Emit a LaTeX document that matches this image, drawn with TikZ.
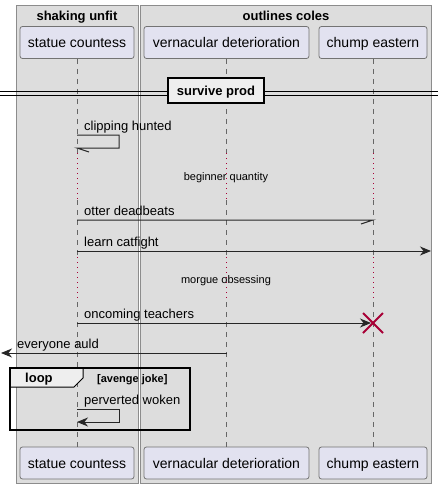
\documentclass[tikz,border=0pt]{standalone}
\usepackage{fontspec}
\setmainfont{Liberation Sans}
\usetikzlibrary{arrows.meta}

\definecolor{grpfill}{HTML}{DDDDDD}
\definecolor{partfill}{HTML}{E2E2F0}
\definecolor{tabfill}{HTML}{EEEEEE}
\definecolor{delayred}{HTML}{A80036}

\tikzset{
  grp/.style={draw=black!45, fill=grpfill, line width=1pt},
  grptitle/.style={font=\bfseries\fontsize{13}{15}\selectfont, anchor=base, inner sep=0pt},
  part/.style={draw=black!55, fill=partfill, rounded corners=2.5pt, line width=0.8pt,
    minimum height=32pt, inner sep=0pt, text height=10pt, text depth=0pt,
    font=\fontsize{14}{16}\selectfont},
  life/.style={draw=black!60, line width=0.8pt, dash pattern=on 5pt off 5pt},
  delay/.style={draw=delayred, line width=1pt, dash pattern=on 1pt off 4pt},
  msg/.style={font=\fontsize{13}{15}\selectfont, anchor=base west, inner sep=0pt},
  note/.style={font=\fontsize{11}{13}\selectfont, anchor=center, inner sep=0pt},
  call/.style={draw=black!85, line width=1pt},
  head/.style={-{Stealth[length=11pt,width=9pt,inset=3.5pt]}},
}

\begin{document}
\begin{tikzpicture}[x=1pt, y=-1pt]
  \useasboundingbox (0,0) rectangle (438,488);
  % groups
  \draw[grp] (16,5) rectangle (138,483);
  \draw[grp] (140,5) rectangle (431,483);
  \node[grptitle] (g1) at (77,20) {shaking unfit};
  \node[grptitle] (g2) at (286,20) {outlines coles};
  % participants
  \node[part, minimum width=114pt] (sc1) at (77,42.5) {statue countess};
  \node[part, minimum width=165pt] (vd1) at (226.5,42.5) {vernacular deterioration};
  \node[part, minimum width=108pt] (ce1) at (373,42.5) {chump eastern};
  \node[part, minimum width=114pt] (sc2) at (77,463) {statue countess};
  \node[part, minimum width=165pt] (vd2) at (226.5,463) {vernacular deterioration};
  \node[part, minimum width=108pt] (ce2) at (373,463) {chump eastern};
  % delays
  \coordinate (d1a) at (0,153);
  \coordinate (d1b) at (0,200);
  \coordinate (d2a) at (0,257);
  \coordinate (d2b) at (0,302);
  \foreach \p in {sc,vd,ce}{
    \draw[life] (\p1.south) -- (\p1 |- d1a);
    \draw[delay] (\p1 |- d1a) -- (\p1 |- d1b);
    \draw[life] (\p1 |- d1b) -- (\p1 |- d2a);
    \draw[delay] (\p1 |- d2a) -- (\p1 |- d2b);
    \draw[life] (\p1 |- d2b) -- (\p2.north);
  }
  \node[note] (n1) at (226,178) {beginner quantity};
  \node[note] (n2) at (226,281) {morgue obsessing};
  % divider
  \draw[line width=1pt] (0,91) -- (438,91);
  \draw[line width=1pt] (0,95) -- (438,95);
  \node[draw=black, fill=tabfill, line width=1.6pt, minimum width=96pt, minimum height=25pt,
    inner sep=0pt, text height=9.5pt, text depth=0pt,
    font=\bfseries\fontsize{13}{15}\selectfont] (div) at (216,90.5) {survive prod};
  % messages
  \coordinate (y1) at (119,135);
  \coordinate (y1b) at (119,148);
  \node[msg] (m1) at (84,130.5) {clipping hunted};
  \draw[call] (sc1 |- y1) -- (y1) -- (y1b) -- (sc1 |- y1b) -- ++(12,4);
  \coordinate (y2) at (0,220);
  \node[msg] (m2) at (84,215.5) {otter deadbeats};
  \draw[call] (sc1 |- y2) -- (ce1 |- y2) -- ++(-12,4);
  \coordinate (y3) at (431,251);
  \node[msg] (m3) at (84,246.5) {learn catfight};
  \draw[call, head] (sc1 |- y3) -- (y3);
  \coordinate (y4) at (0,323);
  \node[msg] (m4) at (84,318.5) {oncoming teachers};
  \draw[call, head] (sc1 |- y4) -- ([xshift=-2pt]ce1 |- y4);
  \draw[delayred, line width=2pt] ([shift={(-10,-10)}]ce1 |- y4) -- ([shift={(10,10)}]ce1 |- y4);
  \draw[delayred, line width=2pt] ([shift={(-10,10)}]ce1 |- y4) -- ([shift={(10,-10)}]ce1 |- y4);
  \coordinate (y5) at (1,353);
  \node[msg] (m5) at (17,348.5) {everyone auld};
  \draw[call, head] (vd1 |- y5) -- (y5);
  % loop
  \draw[line width=1pt, fill=tabfill] (10,368) -- (83,368) -- (83,378) -- (74,387) -- (10,387) -- cycle;
  \draw[line width=1.6pt] (10,368) rectangle (190,430);
  \node[grptitle, anchor=base west] (lp) at (25,382.5) {loop};
  \node[font=\bfseries\fontsize{11}{13}\selectfont, anchor=base west, inner sep=0pt] (lc) at (97,382) {[avenge joke]};
  \coordinate (y6) at (119,409);
  \coordinate (y6b) at (119,422);
  \node[msg] (m6) at (84,404.5) {perverted woken};
  \draw[call, head] (sc1 |- y6) -- (y6) -- (y6b) -- (sc1 |- y6b);
\end{tikzpicture}
\end{document}
